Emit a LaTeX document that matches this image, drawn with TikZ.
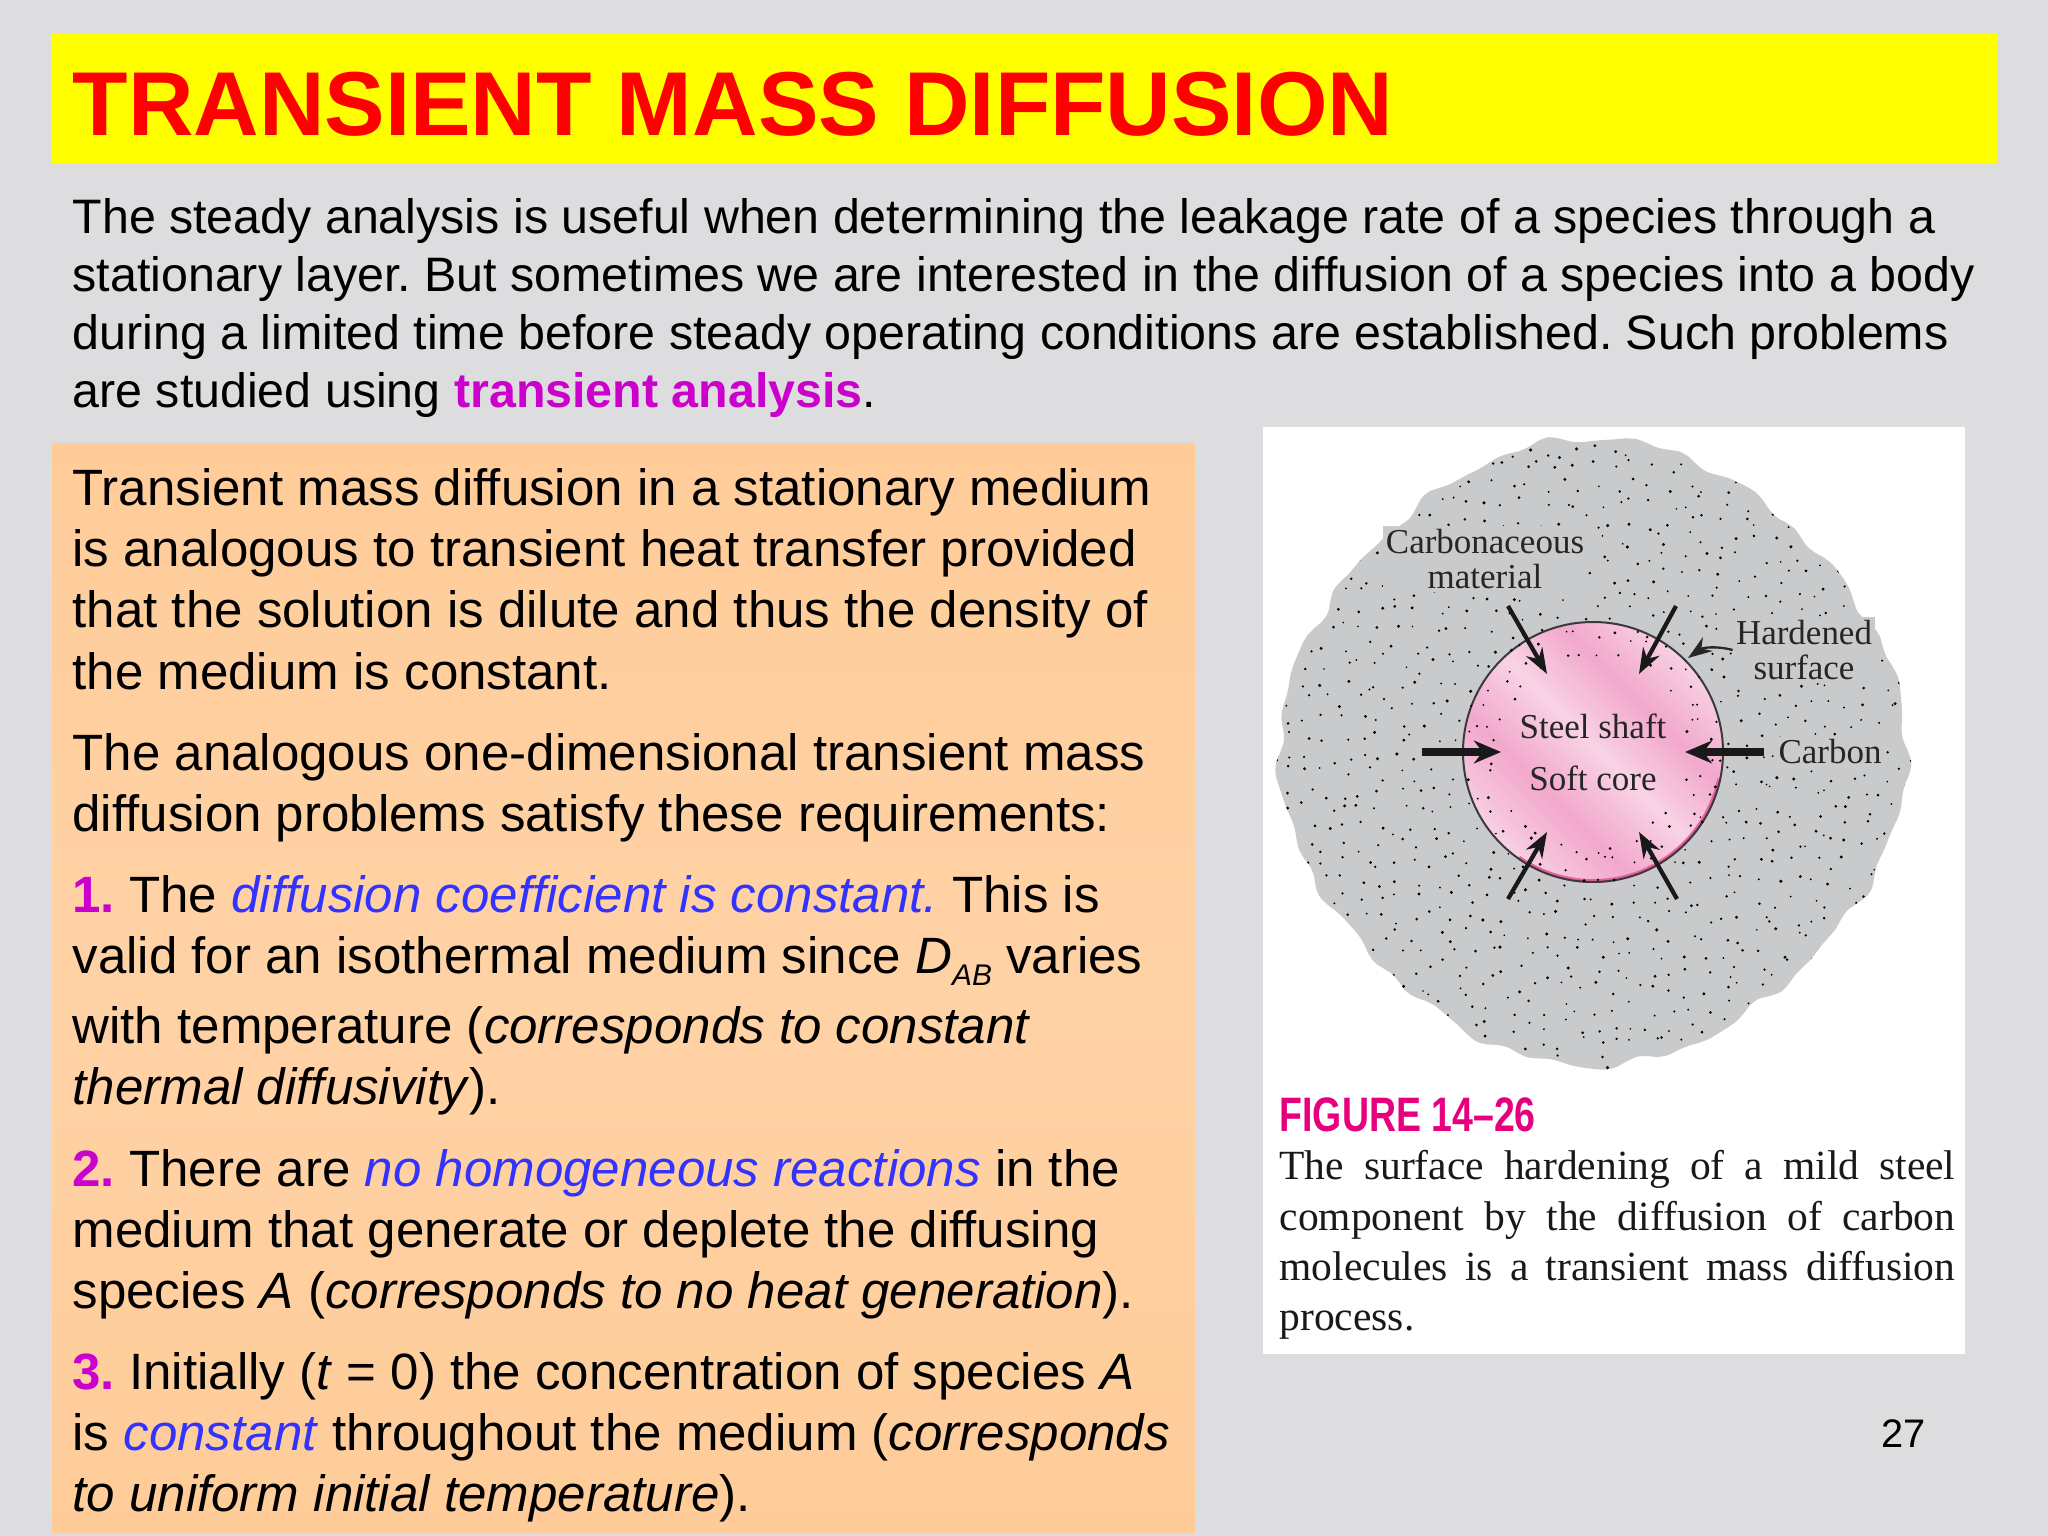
\documentclass[tikz,border=0pt]{standalone}
\usepackage{fontspec}
\setmainfont{Liberation Sans}
\newfontfamily\capfont{Liberation Serif}
\usetikzlibrary{arrows.meta,positioning}
\definecolor{slidegrey}{HTML}{DDDCDE}
\definecolor{titleyellow}{HTML}{FFFF00}
\definecolor{titlered}{HTML}{FF0000}
\definecolor{peachtop}{HTML}{FFCC99}
\definecolor{peachmid}{HTML}{FFD2A6}
\definecolor{purpleword}{HTML}{CC00CC}
\definecolor{blueword}{HTML}{3333FF}
\definecolor{blobgrey}{HTML}{C9CACC}
\definecolor{rimdark}{HTML}{3A3A3C}
\definecolor{rimpink}{HTML}{E8609F}
\definecolor{figpink}{HTML}{E6007E}
\definecolor{pinkA}{HTML}{F2A8CC}
\definecolor{pinkB}{HTML}{F8D3E5}
\pgfdeclareverticalshading{pinkbands}{100bp}{color(0bp)=(pinkA);color(24bp)=(pinkB);color(38bp)=(pinkA);color(51bp)=(pinkB);color(63bp)=(pinkA);color(76bp)=(pinkB);color(100bp)=(pinkA)}
\newcommand{\pw}[1]{\textcolor{purpleword}{\textbf{#1}}}
\newcommand{\bw}[1]{\textcolor{blueword}{\textit{#1}}}
\newcommand{\subAB}{\raisebox{-.45ex}{\fontsize{10.5}{12}\selectfont\itshape AB}}
\newcommand{\blobpath}{plot[domain=0:358,samples=180,smooth cycle] (\x:{307+7*cos(4*\x)+2.5*sin(17*\x)+2*sin(29*\x+40)+1.2*sin(43*\x)})}
\frenchspacing
\begin{document}
\begin{tikzpicture}[x=0.3515625pt,y=-0.3515625pt,
	bodytext/.style={anchor=north west,inner sep=0pt,align=left,font=\fontsize{17}{20.4}\selectfont},
	boxtext/.style={anchor=north west,inner sep=0pt,align=left,font=\fontsize{17.95}{21.5}\selectfont},
	labeltext/.style={inner sep=1pt,align=center,text=black!85,fill=blobgrey,font=\capfont\fontsize{12.3}{12.6}\selectfont},
	coretext/.style={inner sep=0pt,align=center,text=black!85,font=\capfont\fontsize{12.3}{14}\selectfont},
	thinarrow/.style={line width=1.5pt,black!90,-{Stealth[length=9pt,width=6.5pt]}},
	fatarrow/.style={line width=2.8pt,black!90,-{Stealth[length=9.5pt,width=8pt]}}]
\fill[slidegrey] (0,0) rectangle (2048,1536);
\useasboundingbox (0,0) rectangle (2048,1536);
% title bar
\fill[titleyellow] (51,34) rectangle (1997,164);
\node[anchor=base west,inner sep=0pt,text=titlered,font=\fontsize{31.9}{36}\selectfont\bfseries] (title) at (72,135.5) {TRANSIENT MASS DIFFUSION};
% top paragraph
\node[bodytext] (intro) at (72,197.5) {The steady analysis is useful when determining the leakage rate of a species through a\\
stationary layer. But sometimes we are interested in the diffusion of a species into a body\\
during a limited time before steady operating conditions are established. Such problems\\
are studied using \pw{transient analysis}.};
% left box
\shade[top color=peachtop,bottom color=peachtop,middle color=peachmid] (52,444) rectangle (1195,1532);
\node[boxtext] (para1) at (72,468) {Transient mass diffusion in a stationary medium\\
is analogous to transient heat transfer provided\\
that the solution is dilute and thus the density of\\
the medium is constant.};
\node[boxtext] (para2) at (72,733) {The analogous one-dimensional transient mass\\
diffusion problems satisfy these requirements:};
\node[boxtext] (item1) at (72,875) {\pw{1.} The \bw{diffusion coefficient is constant.} This is\\
valid for an isothermal medium since \textit{D}\subAB{} varies\\[3pt]
with temperature (\textit{corresponds to constant}\\
\textit{thermal diffusivity}).};
\node[boxtext] (item2) at (72,1149) {\pw{2.} There are \bw{no homogeneous reactions} in the\\
medium that generate or deplete the diffusing\\
species \textit{A} (\textit{corresponds to no heat generation}).};
\node[boxtext] (item3) at (72,1352) {\pw{3.} Initially (\textit{t} = 0) the concentration of species \textit{A}\\
is \bw{constant} throughout the medium (\textit{corresponds}\\
\textit{to uniform initial temperature}).};
% figure
\fill[white] (1263,427) rectangle (1965,1354);
\coordinate (core) at (1593,752);
\begin{scope}[shift={(core)}]
\fill[blobgrey] \blobpath;
\shade[shading=pinkbands,shading angle=-45] (0,0) circle (130);
\draw[rimpink,line width=1.4pt] (12:129) arc (12:125:129);
\draw[rimdark,line width=.7pt] (0,0) circle (130);
% carbon dots
\clip \blobpath;
\pgfmathsetseed{1426}
\foreach \gx in {-320,-302,...,320}
\foreach \gy in {-320,-302,...,320}{
	\pgfmathsetmacro{\dotx}{\gx+16*rnd-8}
	\pgfmathsetmacro{\doty}{\gy+16*rnd-8}
	\pgfmathsetmacro{\dotsize}{.9+rnd*.8}
	\pgfmathtruncatemacro{\dotin}{veclen(\dotx,\doty)>92 ? 1 : 0}
	\ifnum\dotin=1
		\fill[black] (\dotx,\doty) circle (\dotsize);
	\fi
}
\end{scope}
\node[labeltext] (carbonaceous) at (1485,559) {Carbonaceous\\material};
\node[labeltext] (hardened) at (1804,650) {Hardened\\surface};
\node[labeltext] (carbon) at (1830,752) {Carbon};
\node[coretext] (shaft) at (1593,726) {Steel shaft};
\node[coretext] (softcore) at (1593,778) {Soft core};
\coordinate (hardtip) at (1688,658);
\coordinate (inNW) at (1547,674);
\coordinate (inNE) at (1639,674);
\coordinate (inSW) at (1547,832);
\coordinate (inSE) at (1639,832);
\coordinate (inW) at (1501,752);
\coordinate (inE) at (1685,752);
\coordinate (outNW) at (1508,606);
\coordinate (outNE) at (1676,606);
\coordinate (outSW) at (1508,899);
\coordinate (outSE) at (1677,899);
\coordinate (outW) at (1422,752);
\coordinate (outE) at (1764,752);
\foreach \a/\b in {outNW/inNW,outNE/inNE,outSW/inSW,outSE/inSE}
	\draw[thinarrow] (\a) -- (\b);
\foreach \a/\b in {outW/inW,outE/inE}
	\draw[fatarrow] (\a) -- (\b);
\draw[black!85,line width=.8pt,-{Stealth[length=8.5pt,width=6pt]}] (hardened.west) to[bend right=25] (hardtip);
% caption
\node[anchor=base west,inner sep=0pt,text=figpink,font=\fontsize{17}{20}\selectfont\bfseries] (figname) at (1279,1131) {\scalebox{.775}[1]{FIGURE 14--26}};
\node[anchor=north west,inner sep=0pt,text width=237.6pt,align=justify,text=black!90,font=\capfont\fontsize{14.6}{17.7}\selectfont] (caption) at (1279,1150) {The surface hardening of a mild steel\linebreak component by the diffusion of carbon\linebreak molecules is a transient mass diffusion\linebreak process.};
% page number
\node[anchor=base west,inner sep=0pt,font=\fontsize{14}{16}\selectfont] (pagenum) at (1881,1447) {27};
\end{tikzpicture}
\end{document}
